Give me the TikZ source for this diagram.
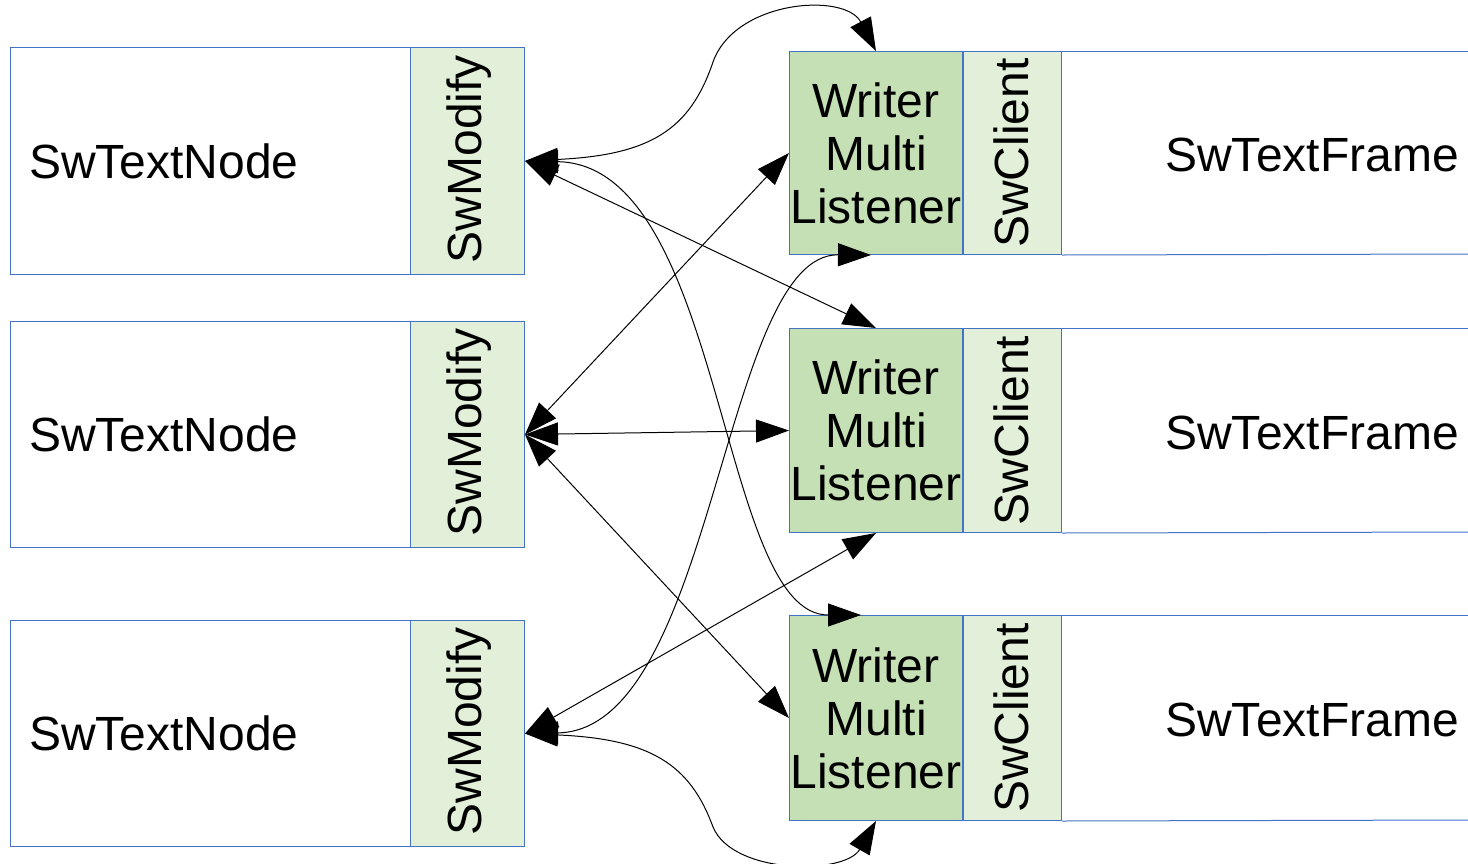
\documentclass[tikz,border=0pt]{standalone}
\usepackage{fontspec}
\setmainfont{Liberation Sans}
\usetikzlibrary{arrows.meta,calc}
\definecolor{bordblue}{HTML}{4472C4}
\definecolor{lgreen}{HTML}{E2F0D9}
\definecolor{mgreen}{HTML}{C5E0B4}
\begin{document}
\begin{tikzpicture}[x=1pt,y=-1pt,
  font=\fontsize{48}{53}\selectfont,
  box/.style={draw=bordblue, line width=1pt, inner sep=0pt, anchor=north west},
  lbl/.style={inner sep=0pt},
  conn/.style={arrows={Triangle[length=33pt,width=23pt]-Triangle[length=33pt,width=23pt]}, line width=1pt},
  fline/.style={draw=bordblue, line width=1pt}]
\useasboundingbox (0,0) rectangle (1468,863);

% left column
\foreach \i/\y/\h in {1/47/227, 2/321/226, 3/620/226}{
  \node[box, fill=white, minimum width=400pt, minimum height=\h pt] (tn\i) at (10,\y) {};
  \node[box, fill=lgreen, minimum width=114pt, minimum height=\h pt] (sm\i) at (410,\y) {};
  \node[lbl, anchor=west] (tnl\i) at ($(tn\i.west)+(19,0)$) {SwTextNode};
  \node[lbl, rotate=90] (sml\i) at ($(sm\i.center)+(2,-2)$) {SwModify};
}

% right column
\foreach \i/\y/\h in {1/51/203, 2/328/204, 3/615/205}{
  \node[box, fill=mgreen, minimum width=173pt, minimum height=\h pt, align=center] (wml\i) at (789,\y) {Writer\\Multi\\Listener};
  \node[box, fill=lgreen, minimum width=98pt, minimum height=\h pt] (sc\i) at (wml\i.north east) {};
  \node[lbl, rotate=90] (scl\i) at ($(sc\i.center)+(-1,0)$) {SwClient};
  \coordinate (fra\i) at (1470,\y);
  \coordinate (frb\i) at ($(fra\i)+(0,\h)$);
  \draw[fline] (sc\i.north east) -- (fra\i);
  \draw[fline] (sc\i.south east) -- (frb\i);
  \node[lbl] (frl\i) at ($(sc\i.east)!0.5!(sc\i.east -| 1562,0)+(0,2)$) {SwTextFrame};
}

% connectors from SwModify 1
\draw[conn] (sm1.east) .. controls (650,155) and (690,130) .. (713,62)
  .. controls (735,0) and (845,-8) .. (wml1.north);
\draw[conn] (sm1.east) -- (wml2.north);
\draw[conn] (sm1.east) .. controls (725,165) and (718,615) .. ([xshift=-15pt]wml3.north);

% connectors from SwModify 2
\draw[conn] (sm2.east) -- (wml1.west);
\draw[conn] (sm2.east) -- (wml2.west);
\draw[conn] (sm2.east) -- (wml3.west);

% connectors from SwModify 3
\draw[conn] (sm3.east) .. controls (715,730) and (722,254) .. ([xshift=-5pt]wml1.south);
\draw[conn] (sm3.east) -- (wml2.south);
\draw[conn] (sm3.east) .. controls (650,739) and (690,764) .. (713,827)
  .. controls (733,875) and (845,875) .. (wml3.south);
\end{tikzpicture}
\end{document}
